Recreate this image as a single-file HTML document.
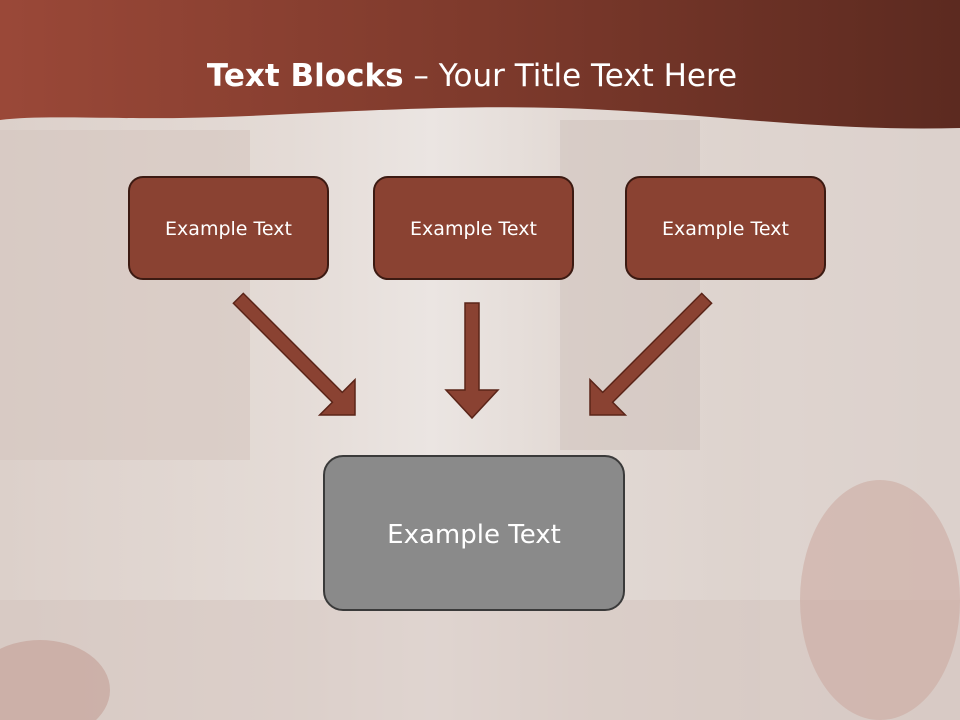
<!DOCTYPE html>
<html><head><meta charset="utf-8"><style>
body{margin:0;width:960px;height:720px;overflow:hidden;font-family:"Liberation Sans",sans-serif;}
.bg{position:absolute;left:0;top:0;width:960px;height:720px;background:linear-gradient(90deg,#dcd0ca 0%,#e4dbd6 30%,#ebe5e2 45%,#e2d9d4 60%,#d8ccc6 100%);}
.box{position:absolute;box-sizing:border-box;border-radius:15px;display:flex;align-items:center;justify-content:center;color:#fff;font-family:"DejaVu Sans","Liberation Sans",sans-serif;}
.s{width:201px;height:104px;top:176px;background:#8a4232;border:2px solid #3c1a12;font-size:19px;padding-top:2px;}
</style></head><body>
<div class="bg"></div>
<svg style="position:absolute;left:0;top:0" width="960" height="720">
<rect x="0" y="130" width="250" height="330" fill="#d6c7c0" opacity="0.6"/>
<rect x="560" y="120" width="140" height="330" fill="#cdbfba" opacity="0.5"/>
<rect x="760" y="120" width="200" height="600" fill="#e0d6d2" opacity="0.5"/>
<rect x="0" y="600" width="960" height="120" fill="#d4c3bd" opacity="0.5"/>
<ellipse cx="880" cy="600" rx="80" ry="120" fill="#c9a39a" opacity="0.5"/>
<ellipse cx="40" cy="690" rx="70" ry="50" fill="#c0968c" opacity="0.5"/>
<defs><linearGradient id="g" x1="0" x2="1"><stop offset="0" stop-color="#9a4838"/><stop offset="0.5" stop-color="#7e3a2c"/><stop offset="1" stop-color="#5c2a20"/></linearGradient></defs>
<path d="M0 0H960V128C820 132 700 112 560 108C420 104 300 116 180 118C100 119 40 115 0 120Z" fill="url(#g)"/>
<g fill="#8a4232" stroke="#5a2418" stroke-width="1.5">
<polygon transform="translate(355,415) rotate(45)" points="-165,-7 -25,-7 -25,-25 0,0 -25,25 -25,7 -165,7"/>
<polygon transform="translate(590,415) rotate(135)" points="-165,-7 -25,-7 -25,-25 0,0 -25,25 -25,7 -165,7"/>
<polygon transform="translate(472,418) rotate(90)" points="-115,-7 -28,-7 -28,-26 0,0 -28,26 -28,7 -115,7"/>
</g>
</svg>
<div style="position:absolute;left:0;top:58px;width:944px;text-align:center;color:#fff;font-family:'DejaVu Sans','Liberation Sans',sans-serif;font-size:31px;"><b>Text Blocks</b> – Your Title Text Here</div>
<div class="box s" style="left:128px">Example Text</div>
<div class="box s" style="left:373px">Example Text</div>
<div class="box s" style="left:625px">Example Text</div>
<div class="box" style="left:323px;top:455px;width:302px;height:156px;background:#8a8a8a;border:2px solid #3a3a3a;font-size:26px;padding-bottom:0;padding-top:4px;border-radius:20px;">Example Text</div>
</body></html>
